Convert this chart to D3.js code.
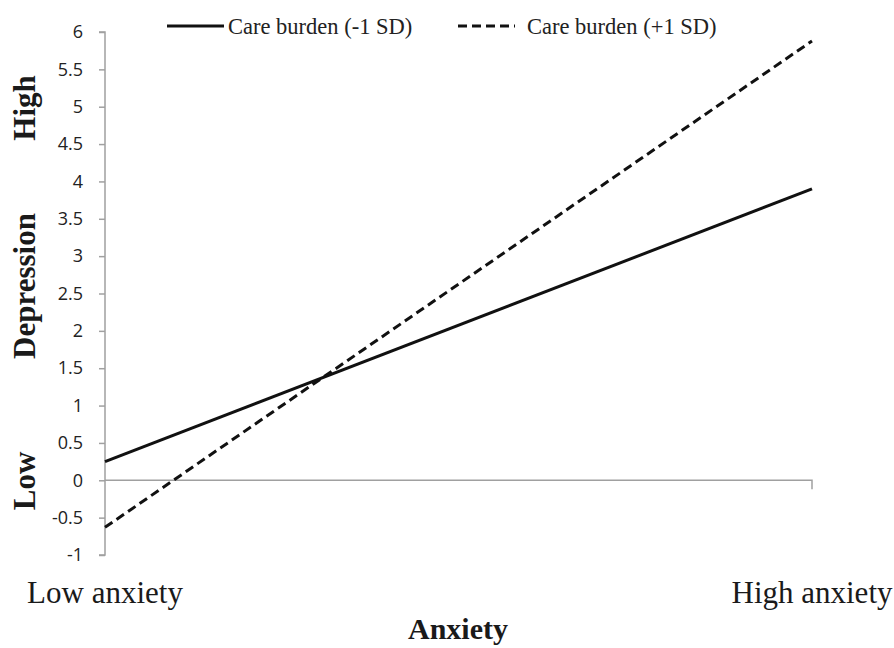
<!DOCTYPE html>
<html>
<head>
<meta charset="utf-8">
<script src="https://cdn.jsdelivr.net/npm/d3@7"></script>
<style>
  body { margin: 0; background: #fff; }
</style>
</head>
<body>
<script>
// chart data
const categories = ["Low anxiety", "High anxiety"];
const seriesNames = ["Care burden (-1 SD)", "Care burden (+1 SD)"];
const lowBurden = [0.25, 3.9];
const highBurden = [-0.63, 5.88];
const yTicks = [-1, -0.5, 0, 0.5, 1, 1.5, 2, 2.5, 3, 3.5, 4, 4.5, 5, 5.5, 6];
const yLabelText = ["High", "Depression", "Low"];

const width = 894, height = 648;
const svg = d3.select("body").append("svg")
  .attr("width", width).attr("height", height);

const x = d3.scalePoint().domain(categories).range([105, 812]);
const y = d3.scaleLinear().domain([-1, 6]).range([555, 32]);

const axisColor = "#a0a0a0";
const serif = "'Liberation Serif', 'Times New Roman', serif";

// y axis
const yAxis = svg.append("g")
  .attr("transform", "translate(105,0)")
  .call(d3.axisLeft(y).tickValues(yTicks).tickSize(6).tickPadding(16)
    .tickFormat(d => String(d)));
yAxis.select(".domain").attr("stroke", axisColor).attr("stroke-width", 1.5)
  .attr("d", `M-6,${y(6)}H0V${y(-1)}H-6`);
yAxis.selectAll(".tick line").attr("stroke", axisColor).attr("stroke-width", 1.5);
yAxis.selectAll(".tick text")
  .attr("fill", "#222")
  .style("font", "18px 'Open Sans', sans-serif");

// x axis at y = 0
const xAxis = svg.append("g")
  .attr("transform", `translate(0,${y(0)})`)
  .call(d3.axisBottom(x).tickSize(0).tickFormat(""));
xAxis.select(".domain").attr("stroke", axisColor).attr("stroke-width", 1.5)
  .attr("d", `M${x(categories[0])},0H${x(categories[1])}V9`);

// category labels
svg.selectAll(".cat")
  .data(categories)
  .join("text")
  .attr("class", "cat")
  .attr("x", d => x(d))
  .attr("y", 603)
  .attr("text-anchor", "middle")
  .style("font", `31px ${serif}`)
  .attr("fill", "#1a1a1a")
  .text(d => d);

// x axis title
svg.append("text")
  .attr("x", 458).attr("y", 639)
  .attr("text-anchor", "middle")
  .style("font", `bold 30px ${serif}`)
  .attr("fill", "#1a1a1a")
  .text("Anxiety");

// y axis labels (rotated)
const yLabelPos = [108, 286, 481];
svg.selectAll(".ylab")
  .data(yLabelText)
  .join("text")
  .attr("class", "ylab")
  .attr("transform", (d, i) => `translate(35,${yLabelPos[i]}) rotate(-90)`)
  .attr("text-anchor", "middle")
  .style("font", `bold 31px ${serif}`)
  .attr("fill", "#1a1a1a")
  .text(d => d);

// lines
const line = d3.line()
  .x((d, i) => x(categories[i]))
  .y(d => y(d));

const series = [
  { name: seriesNames[0], values: lowBurden, dash: null },
  { name: seriesNames[1], values: highBurden, dash: "9,5" }
];

svg.selectAll(".series")
  .data(series)
  .join("path")
  .attr("class", "series")
  .attr("d", d => line(d.values))
  .attr("fill", "none")
  .attr("stroke", "#111")
  .attr("stroke-width", 3)
  .attr("stroke-dasharray", d => d.dash);

// legend
const legend = svg.append("g");
const legendPos = [
  { lx: 167, tx: 228 },
  { lx: 458, tx: 527 }
];
series.forEach((s, i) => {
  const p = legendPos[i];
  legend.append("line")
    .attr("x1", p.lx).attr("x2", p.lx + 57)
    .attr("y1", 26).attr("y2", 26)
    .attr("stroke", "#111").attr("stroke-width", 3)
    .attr("stroke-dasharray", s.dash);
  legend.append("text")
    .attr("x", p.tx).attr("y", 34)
    .style("font", `22.5px ${serif}`)
    .attr("fill", "#222")
    .text(s.name);
});
</script>
</body>
</html>
